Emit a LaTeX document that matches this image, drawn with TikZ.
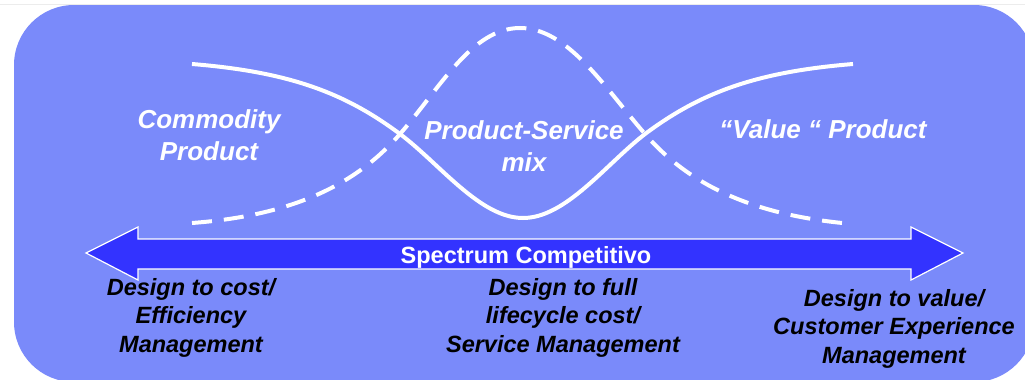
\documentclass[tikz,border=0pt]{standalone}
\usepackage{fontspec}
\setmainfont{Liberation Sans}
\usetikzlibrary{positioning}

\definecolor{panelblue}{RGB}{122,138,250}
\definecolor{arrowblue}{RGB}{51,51,255}

\begin{document}
\begin{tikzpicture}[x=1pt,y=-1pt,
        toplabel/.style={text=white,align=center,inner sep=0pt,
            font=\fontsize{26}{32}\selectfont\bfseries\itshape},
        botlabel/.style={text=black,align=center,inner sep=0pt,
            font=\fontsize{23.5}{28.5}\selectfont\bfseries\itshape},
        curve/.style={white,line width=4pt},
        spectrum/.style={fill=arrowblue,draw=white,line width=1.2pt}]
        \useasboundingbox (0,0) rectangle (1025,380);
        \draw[gray!15,line width=0.8pt] (0,4) -- (1025,4);
        \fill[panelblue,rounded corners=60pt] (14,5) rectangle (1034,382);

        % curves
        \draw[curve] (192,64) .. controls (290,72) and (345,93) .. (400,134)
            .. controls (440,164) and (480,218) .. (523,218)
            .. controls (566,218) and (606,164) .. (645,134)
            .. controls (700,93) and (755,72) .. (853,64);
        \draw[curve,dash pattern=on 20pt off 12pt] (192,223)
            .. controls (300,215) and (360,180) .. (400,134)
            .. controls (440,88) and (472,28) .. (520,28)
            .. controls (568,28) and (605,88) .. (645,134)
            .. controls (685,180) and (745,215) .. (853,224);

        % double arrow
        \draw[spectrum] (86,253) -- (138,227) -- (138,239) -- (911,239)
            -- (911,227) -- (963,253) -- (911,280) -- (911,269)
            -- (138,269) -- (138,280) -- cycle;

        \node[toplabel]                 at (209,135.5)  (commodity) {Commodity\\Product};
        \node[toplabel]                 at (524,146.5)  (mix)       {Product-Service\\mix};
        \node[toplabel,anchor=base]     at (823,138)    (value)     {“Value “ Product};
        \node[text=white,inner sep=0pt,anchor=base,
            font=\fontsize{23.5}{28}\selectfont\bfseries]
                                        at (526,263)    (spec)      {Spectrum Competitivo};
        \node[botlabel]                 at (191,317.5)  (cost)      {Design to cost/\\Efficiency\\Management};
        \node[botlabel]                 at (563,317.5)  (full)      {Design to full\\lifecycle cost/\\Service Management};
        \node[botlabel]                 at (894,328.5)  (valuedes)  {Design to value/\\Customer Experience\\Management};
\end{tikzpicture}
\end{document}
